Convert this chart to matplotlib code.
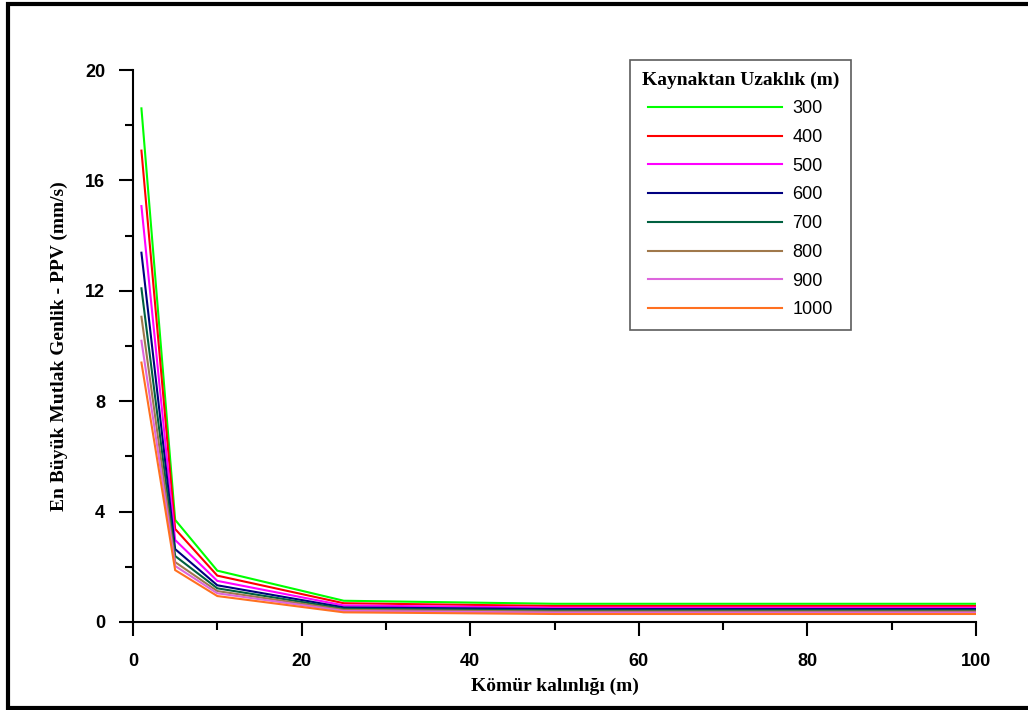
import matplotlib
matplotlib.use("Agg")
import matplotlib.pyplot as plt
from matplotlib.ticker import MultipleLocator
from matplotlib.lines import Line2D

# Data
thickness = [1, 5, 10, 25, 50, 100]
distances = ["300", "400", "500", "600", "700", "800", "900", "1000"]
ppv_300 = [18.61, 3.70, 1.86, 0.77, 0.66, 0.66]
ppv_400 = [17.08, 3.37, 1.68, 0.68, 0.58, 0.58]
ppv_500 = [15.07, 2.97, 1.49, 0.60, 0.52, 0.52]
ppv_600 = [13.38, 2.64, 1.33, 0.53, 0.47, 0.47]
ppv_700 = [12.09, 2.39, 1.22, 0.48, 0.42, 0.42]
ppv_800 = [11.06, 2.17, 1.12, 0.44, 0.38, 0.38]
ppv_900 = [10.19, 2.03, 1.04, 0.40, 0.34, 0.34]
ppv_1000 = [9.40, 1.88, 0.94, 0.35, 0.29, 0.29]
series = [ppv_300, ppv_400, ppv_500, ppv_600, ppv_700, ppv_800, ppv_900, ppv_1000]
colors = ["#00FF00", "#FF0000", "#FF00FF", "#000080", "#006040",
          "#A0784B", "#DD66DD", "#FF7020"]

W, H = 1028, 710
fig = plt.figure(figsize=(W / 100, H / 100), dpi=100)
ax = fig.add_axes([133 / W, 1 - 622 / H, (976 - 133) / W, (622 - 70) / H])

for vals, c, lab in zip(series, colors, distances):
    ax.plot(thickness, vals, color=c, lw=1.5, label=lab, solid_joinstyle="miter")

ax.set_xlim(0, 100)
ax.set_ylim(0, 20)
ax.xaxis.set_major_locator(MultipleLocator(20))
ax.xaxis.set_minor_locator(MultipleLocator(10))
ax.yaxis.set_major_locator(MultipleLocator(4))
ax.yaxis.set_minor_locator(MultipleLocator(2))
for s in ["top", "right"]:
    ax.spines[s].set_visible(False)
for s in ["left", "bottom"]:
    ax.spines[s].set_linewidth(1.5)
ax.tick_params(which="major", direction="out", length=10, width=1.5, pad=10)
ax.tick_params(which="minor", direction="out", length=6, width=1.5)
ax.tick_params(axis="x", which="major", pad=12)
for lbl in ax.get_xticklabels() + ax.get_yticklabels():
    lbl.set_fontfamily("Liberation Sans")
    lbl.set_fontweight("bold")
    lbl.set_fontsize(13)

ax.set_xlabel("Kömür kalınlığı (m)", fontfamily="Liberation Serif",
              fontweight="bold", fontsize=14, labelpad=6)
ax.set_ylabel("En Büyük Mutlak Genlik - PPV (mm/s)", fontfamily="Liberation Serif",
              fontweight="bold", fontsize=14, labelpad=12)

leg = ax.legend(loc="upper left", bbox_to_anchor=(630 / W, 1 - 59.5 / H),
                bbox_transform=fig.transFigure, borderaxespad=0,
                title="Kaynaktan Uzaklık (m)", frameon=True, fancybox=False,
                handlelength=7.4, handletextpad=0.6, labelspacing=0.65,
                borderpad=0.65, prop={"family": "Liberation Sans", "size": 13},
                title_fontproperties={"family": "Liberation Serif",
                                      "weight": "bold", "size": 14})
leg.get_frame().set_edgecolor("#333333")
leg.get_frame().set_linewidth(1.2)

# figure frame
fr = Line2D([1.02, 8 / W, 8 / W, 1.02], [1 - 3.5 / H, 1 - 3.5 / H, 1 - 707.5 / H, 1 - 707.5 / H],
            transform=fig.transFigure, color="black", lw=3, solid_joinstyle="miter")
fig.add_artist(fr)

fig.savefig("out.png", dpi=100)
